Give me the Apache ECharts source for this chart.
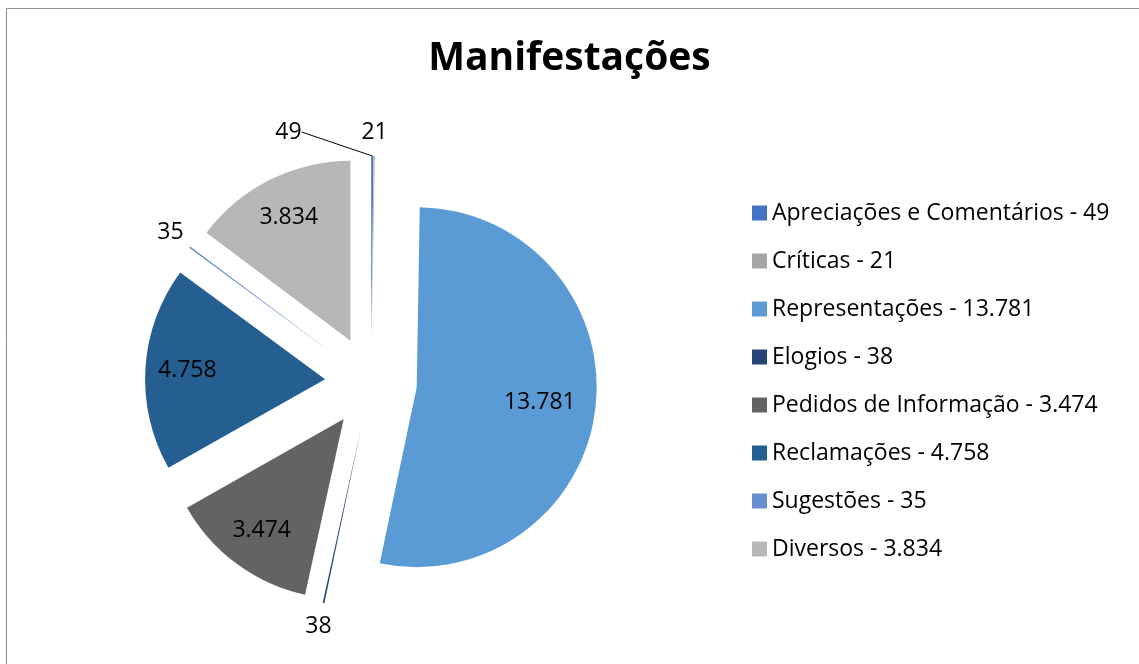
<!DOCTYPE html>
<html><head><meta charset="utf-8">
<script src="https://cdn.jsdelivr.net/npm/echarts@6/dist/echarts.min.js"></script>
<style>html,body{margin:0;padding:0;background:#fff}#c{width:1139px;height:664px}</style>
</head><body><div id="c"></div>
<script>
const categories = ['Apreciações e Comentários','Críticas','Representações','Elogios','Pedidos de Informação','Reclamações','Sugestões','Diversos'];
const values = [49, 21, 13781, 38, 3474, 4758, 35, 3834];
const colors = ['#4472C4','#A5A5A5','#5B9BD5','#264478','#636363','#255E91','#698ED0','#B7B7B7'];
const labelInside = [false, false, true, false, true, true, false, true];

function fmt(v){ return String(v).replace(/\B(?=(\d{3})+(?!\d))/g, '.'); }
const FONT = 'Open Sans';
const CENTER = [371, 382];
const R = 180;
const OFFSET = 46;

const baseData = categories.map((n, i) => ({
  name: n, value: values[i], selected: true,
  itemStyle: { color: colors[i] },
  select: { itemStyle: { color: colors[i] } }
}));

// inside labels (move with the exploded slices)
const innerLabelData = categories.map((n, i) => ({
  name: n, value: values[i], selected: true,
  label: { show: labelInside[i], padding: i === 2 ? [22, 28, 0, 0] : 0 }
}));

// outside labels (ring placed at the exploded outer edge)
const outerLabelData = categories.map((n, i) => ({
  name: n, value: values[i],
  label: { show: !labelInside[i] },
  labelLine: { show: !labelInside[i], lineStyle: { opacity: i === 0 ? 1 : 0 } }
}));

const transparent = 'rgba(0,0,0,0)';
const chart = echarts.init(document.getElementById('c'));
chart.setOption({
  animation: false,
  backgroundColor: '#fff',
  title: {
    text: 'Manifestações', left: 'center', top: 34,
    textStyle: { fontFamily: FONT, fontWeight: 'bold', fontSize: 39, color: '#000' }
  },
  legend: {
    orient: 'vertical', left: 747, top: 196,
    icon: 'rect', itemWidth: 15, itemHeight: 15, itemGap: 24,
    selectedMode: false,
    data: categories.map((n, i) => ({ name: n, itemStyle: { color: colors[i] } })),
    textStyle: { fontFamily: FONT, fontSize: 23, color: '#000', lineHeight: 24 },
    formatter: name => name + ' - ' + fmt(values[categories.indexOf(name)])
  },
  graphic: [{
    type: 'polyline', silent: true,
    shape: { points: [[6.5, 664], [6.5, 8.5], [1139, 8.5]] },
    style: { stroke: '#8e8e8e', lineWidth: 1, fill: null }
  }],
  series: [{
    type: 'pie', center: CENTER, radius: R,
    startAngle: 90, clockwise: true,
    selectedMode: 'multiple', selectedOffset: OFFSET,
    avoidLabelOverlap: false, silent: true,
    label: { show: false }, labelLine: { show: false },
    emphasis: { disabled: true },
    itemStyle: { borderWidth: 0 },
    data: baseData
  }, {
    type: 'pie', center: CENTER, radius: [R / 2, R],
    startAngle: 90, clockwise: true,
    selectedMode: 'multiple', selectedOffset: OFFSET,
    avoidLabelOverlap: false, silent: true,
    itemStyle: { color: transparent, borderWidth: 0 },
    select: { itemStyle: { color: transparent } },
    emphasis: { disabled: true },
    label: {
      position: 'inside', fontFamily: FONT, fontSize: 23, color: '#000',
      formatter: p => fmt(p.value)
    },
    labelLine: { show: false },
    data: innerLabelData
  }, {
    type: 'pie', center: CENTER, radius: [R + OFFSET - 1, R + OFFSET],
    startAngle: 90, clockwise: true,
    selectedMode: false,
    avoidLabelOverlap: false, silent: true,
    itemStyle: { color: transparent, borderWidth: 0 },
    emphasis: { disabled: true },
    label: {
      position: 'outside', fontFamily: FONT, fontSize: 23, color: '#000',
      formatter: p => fmt(p.value)
    },
    labelLine: { length: 8, length2: 0, lineStyle: { color: '#000', width: 1 } },
    labelLayout: function (p) {
      if (labelInside[p.dataIndex] || !p.labelLinePoints) return {};
      const a = p.labelLinePoints[0], b = p.labelLinePoints[1];
      let dx = b[0] - a[0], dy = b[1] - a[1];
      const L = Math.hypot(dx, dy) || 1; dx /= L; dy /= L;
      let x = b[0] + dx * 16, y = b[1] + dy * 16;
      if (p.dataIndex === 0) { x -= 84; }
      return { x: x, y: y, align: 'center', verticalAlign: 'middle' };
    },
    data: outerLabelData
  }]
});
</script>
</body></html>
